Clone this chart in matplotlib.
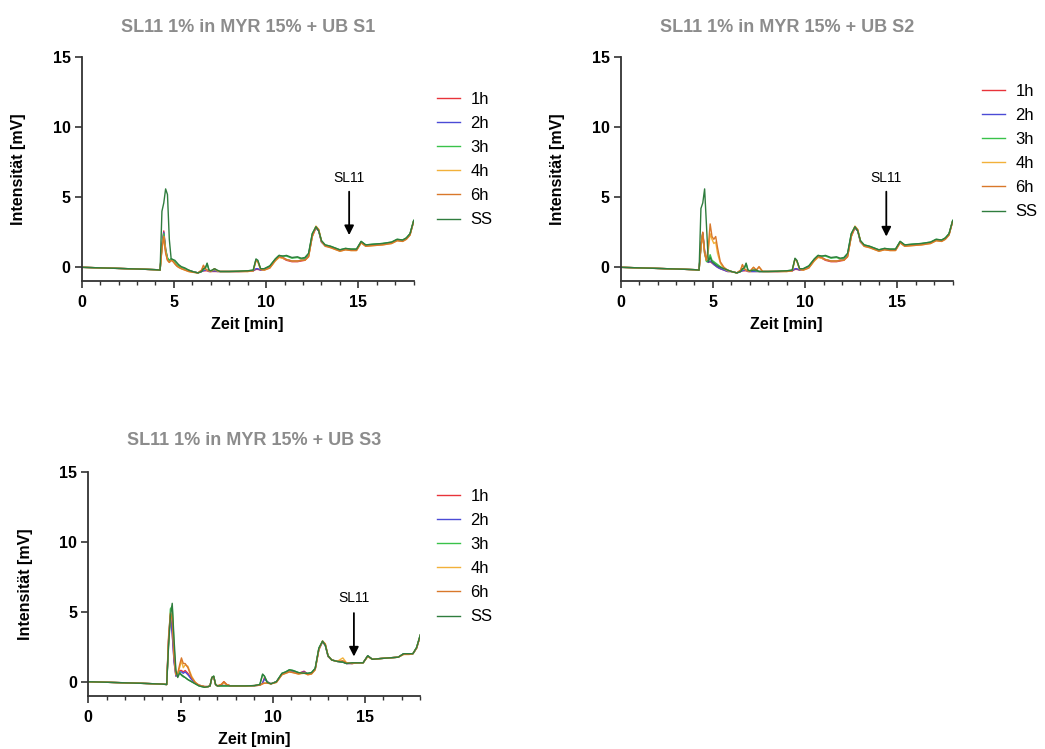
import matplotlib
matplotlib.use("Agg")
import matplotlib.pyplot as plt
from matplotlib.ticker import MultipleLocator

plt.rcParams['font.family'] = ['Liberation Sans', 'DejaVu Sans']

# retention time grid (min), shared by all traces
t = [0, 1, 2, 3, 4, 4.25, 4.35, 4.45, 4.55, 4.65,
     4.75, 4.85, 4.95, 5.05, 5.15, 5.25, 5.4, 5.6, 5.8, 6.0,
     6.3, 6.5, 6.6, 6.7, 6.8, 6.9, 7.0, 7.2, 7.35, 7.5,
     7.7, 8.0, 8.5, 9.0, 9.3, 9.45, 9.55, 9.7, 9.9, 10.2,
     10.5, 10.7, 10.9, 11.1, 11.4, 11.7, 11.9, 12.1, 12.3, 12.5,
     12.7, 12.85, 13.0, 13.2, 13.5, 13.8, 14.0, 14.3, 14.6, 14.9,
     15.15, 15.4, 15.8, 16.3, 16.8, 17.1, 17.4, 17.6, 17.8, 18.0]

series_labels = ['1h', '2h', '3h', '4h', '6h', 'SS']
series_colors = ['#e8333a', '#4b4bd6', '#39c24a', '#f2b13a', '#d9782a', '#2f7d3e']

titles = ['SL11 1% in MYR 15% + UB S1',
          'SL11 1% in MYR 15% + UB S2',
          'SL11 1% in MYR 15% + UB S3']

# ---- S1 ----
s1_1h = [0, -0.04, -0.08, -0.12, -0.17, -0.2, 1.6, 2.6, 1.3, 0.6,
         0.4, 0.55, 0.5, 0.3, 0.15, 0.05, -0.05, -0.15, -0.25, -0.3,
         -0.4, -0.3, -0.25, -0.25, -0.25, -0.3, -0.3, -0.3, -0.3, -0.3,
         -0.3, -0.3, -0.3, -0.28, -0.25, -0.15, -0.15, -0.2, -0.15, 0.0,
         0.5, 0.75, 0.65, 0.5, 0.4, 0.4, 0.45, 0.5, 0.8, 2.2,
         2.8, 2.6, 1.8, 1.55, 1.45, 1.3, 1.2, 1.3, 1.25, 1.25,
         1.8, 1.55, 1.6, 1.65, 1.75, 1.95, 1.9, 2.05, 2.35, 3.3]
s1_2h = [0, -0.04, -0.08, -0.12, -0.17, -0.2, 1.5, 2.5, 1.2, 0.6,
         0.4, 0.6, 0.5, 0.3, 0.15, 0.05, -0.05, -0.15, -0.25, -0.3,
         -0.4, -0.3, -0.25, -0.2, -0.2, -0.3, -0.3, -0.25, -0.3, -0.3,
         -0.3, -0.3, -0.3, -0.28, -0.25, -0.1, -0.1, -0.2, -0.15, 0.0,
         0.5, 0.75, 0.7, 0.55, 0.45, 0.45, 0.5, 0.55, 0.85, 2.3,
         2.85, 2.6, 1.8, 1.55, 1.45, 1.3, 1.2, 1.3, 1.25, 1.25,
         1.8, 1.55, 1.6, 1.65, 1.75, 1.95, 1.9, 2.05, 2.35, 3.3]
s1_3h = [0, -0.04, -0.08, -0.12, -0.17, -0.2, 1.4, 2.4, 1.3, 0.7,
         0.5, 0.6, 0.55, 0.35, 0.2, 0.1, 0.0, -0.1, -0.2, -0.3,
         -0.4, -0.3, -0.15, -0.1, 0.25, -0.2, -0.25, -0.15, -0.25, -0.3,
         -0.3, -0.3, -0.28, -0.25, -0.2, 0.55, 0.45, -0.1, -0.1, 0.1,
         0.6, 0.85, 0.8, 0.8, 0.65, 0.7, 0.6, 0.65, 0.95, 2.4,
         2.9, 2.65, 1.9, 1.6, 1.5, 1.35, 1.25, 1.35, 1.3, 1.3,
         1.85, 1.6, 1.65, 1.7, 1.8, 2.0, 1.95, 2.1, 2.4, 3.35]
s1_4h = [0, -0.04, -0.08, -0.12, -0.17, -0.2, 1.3, 2.2, 1.1, 0.5,
         0.35, 0.5, 0.45, 0.25, 0.1, 0.0, -0.1, -0.2, -0.3, -0.35,
         -0.4, -0.2, 0.1, -0.1, -0.2, -0.25, -0.3, -0.1, -0.25, -0.3,
         -0.3, -0.3, -0.3, -0.3, -0.25, 0.45, 0.4, -0.15, -0.2, -0.05,
         0.45, 0.7, 0.65, 0.55, 0.45, 0.45, 0.5, 0.5, 0.75, 2.2,
         2.95, 2.7, 1.85, 1.55, 1.4, 1.25, 1.15, 1.25, 1.2, 1.2,
         1.75, 1.5, 1.55, 1.6, 1.7, 1.9, 1.85, 2.0, 2.3, 3.3]
s1_6h = [0, -0.04, -0.08, -0.12, -0.17, -0.2, 1.3, 2.2, 1.0, 0.5,
         0.35, 0.5, 0.4, 0.25, 0.1, 0.0, -0.1, -0.2, -0.3, -0.35,
         -0.4, -0.2, 0.15, -0.1, -0.2, -0.25, -0.3, -0.1, -0.25, -0.3,
         -0.3, -0.3, -0.3, -0.3, -0.25, 0.5, 0.4, -0.15, -0.2, -0.05,
         0.5, 0.75, 0.7, 0.55, 0.45, 0.45, 0.5, 0.5, 0.75, 2.2,
         2.9, 2.7, 1.85, 1.5, 1.4, 1.25, 1.15, 1.25, 1.2, 1.2,
         1.75, 1.5, 1.55, 1.6, 1.7, 1.9, 1.85, 2.0, 2.3, 3.3]
s1_ss = [0, -0.04, -0.08, -0.12, -0.17, -0.2, 4.0, 4.6, 5.6, 5.2,
         2.0, 0.6, 0.55, 0.5, 0.35, 0.2, 0.05, -0.05, -0.2, -0.3,
         -0.4, -0.3, -0.1, -0.05, 0.3, -0.2, -0.25, -0.1, -0.2, -0.3,
         -0.3, -0.3, -0.28, -0.25, -0.2, 0.6, 0.5, -0.1, -0.1, 0.1,
         0.6, 0.85, 0.8, 0.85, 0.7, 0.75, 0.65, 0.7, 1.0, 2.4,
         2.9, 2.6, 1.9, 1.6, 1.5, 1.35, 1.25, 1.35, 1.3, 1.3,
         1.85, 1.6, 1.65, 1.7, 1.8, 2.0, 1.95, 2.1, 2.4, 3.35]

# ---- S2 ----
s2_1h = [0, -0.04, -0.08, -0.12, -0.17, -0.2, 1.6, 2.5, 1.2, 0.5,
         0.35, 0.4, 0.3, 0.2, 0.1, 0.0, -0.1, -0.2, -0.3, -0.3,
         -0.4, -0.3, -0.25, -0.25, -0.25, -0.3, -0.3, -0.3, -0.3, -0.3,
         -0.3, -0.3, -0.3, -0.28, -0.25, -0.15, -0.15, -0.2, -0.15, 0.0,
         0.5, 0.75, 0.65, 0.5, 0.4, 0.4, 0.45, 0.5, 0.8, 2.2,
         2.8, 2.6, 1.8, 1.55, 1.45, 1.3, 1.2, 1.3, 1.25, 1.25,
         1.8, 1.55, 1.6, 1.65, 1.75, 1.95, 1.9, 2.05, 2.35, 3.3]
s2_2h = [0, -0.04, -0.08, -0.12, -0.17, -0.2, 1.5, 2.4, 1.1, 0.5,
         0.35, 0.45, 0.35, 0.2, 0.1, 0.0, -0.1, -0.2, -0.3, -0.3,
         -0.4, -0.3, -0.25, -0.2, -0.2, -0.3, -0.3, -0.3, -0.3, -0.3,
         -0.3, -0.3, -0.3, -0.28, -0.25, -0.1, -0.1, -0.2, -0.15, 0.0,
         0.5, 0.75, 0.7, 0.55, 0.45, 0.45, 0.5, 0.55, 0.85, 2.3,
         2.85, 2.6, 1.8, 1.55, 1.45, 1.3, 1.2, 1.3, 1.25, 1.25,
         1.8, 1.55, 1.6, 1.65, 1.75, 1.95, 1.9, 2.05, 2.35, 3.3]
s2_3h = [0, -0.04, -0.08, -0.12, -0.17, -0.2, 1.5, 2.4, 1.0, 0.4,
         0.5, 0.9, 0.5, 0.4, 0.3, 0.2, 0.05, -0.1, -0.2, -0.3,
         -0.4, -0.3, -0.15, -0.1, 0.25, -0.2, -0.25, -0.2, -0.25, -0.3,
         -0.3, -0.3, -0.28, -0.25, -0.2, 0.6, 0.45, -0.1, -0.1, 0.1,
         0.6, 0.85, 0.8, 0.8, 0.65, 0.7, 0.6, 0.65, 0.95, 2.4,
         2.9, 2.65, 1.9, 1.6, 1.5, 1.35, 1.25, 1.35, 1.3, 1.3,
         1.85, 1.6, 1.65, 1.7, 1.8, 2.0, 1.95, 2.1, 2.4, 3.35]
s2_4h = [0, -0.04, -0.08, -0.12, -0.17, -0.2, 1.4, 2.3, 1.0, 0.5,
         1.2, 2.4, 2.0, 1.7, 1.8, 1.0, 0.3, -0.1, -0.25, -0.3,
         -0.4, -0.2, 0.15, -0.1, -0.2, -0.25, -0.3, 0.0, -0.2, 0.0,
         -0.3, -0.3, -0.3, -0.3, -0.25, 0.6, 0.45, -0.15, -0.2, -0.05,
         0.45, 0.7, 0.65, 0.55, 0.45, 0.45, 0.5, 0.5, 0.75, 2.2,
         2.95, 2.7, 1.85, 1.5, 1.4, 1.25, 1.15, 1.25, 1.2, 1.2,
         1.75, 1.5, 1.55, 1.6, 1.7, 1.9, 1.85, 2.0, 2.3, 3.3]
s2_6h = [0, -0.04, -0.08, -0.12, -0.17, -0.2, 1.5, 2.5, 1.0, 0.5,
         1.5, 3.1, 2.2, 2.0, 2.2, 1.4, 0.4, 0.0, -0.2, -0.3,
         -0.4, -0.2, 0.2, -0.1, -0.2, -0.25, -0.3, 0.0, -0.2, 0.05,
         -0.3, -0.3, -0.3, -0.3, -0.25, 0.6, 0.45, -0.15, -0.2, -0.05,
         0.5, 0.75, 0.7, 0.55, 0.45, 0.45, 0.5, 0.5, 0.75, 2.2,
         2.9, 2.7, 1.85, 1.5, 1.4, 1.25, 1.15, 1.25, 1.2, 1.2,
         1.75, 1.5, 1.55, 1.6, 1.7, 1.9, 1.85, 2.0, 2.3, 3.3]
s2_ss = [0, -0.04, -0.08, -0.12, -0.17, -0.2, 4.2, 4.6, 5.6, 3.0,
         0.4, 0.7, 0.4, 0.3, 0.2, 0.1, 0.0, -0.1, -0.2, -0.3,
         -0.4, -0.3, -0.1, -0.05, 0.3, -0.2, -0.25, -0.2, -0.2, -0.3,
         -0.3, -0.3, -0.28, -0.25, -0.2, 0.65, 0.5, -0.1, -0.1, 0.1,
         0.6, 0.85, 0.8, 0.85, 0.7, 0.75, 0.65, 0.7, 1.0, 2.4,
         2.9, 2.6, 1.9, 1.6, 1.5, 1.35, 1.25, 1.35, 1.3, 1.3,
         1.85, 1.6, 1.65, 1.7, 1.8, 2.0, 1.95, 2.1, 2.4, 3.35]

# ---- S3 ----
s3_1h = [0, -0.04, -0.08, -0.12, -0.17, -0.2, 3.0, 4.8, 3.5, 1.5,
         0.4, 0.5, 0.8, 0.8, 0.7, 0.8, 0.6, 0.2, -0.1, -0.25,
         -0.35, -0.35, -0.3, 0.3, 0.35, -0.2, -0.3, -0.25, 0.0, -0.2,
         -0.3, -0.3, -0.3, -0.28, -0.25, -0.1, 0.3, 0.0, -0.15, 0.0,
         0.55, 0.65, 0.75, 0.7, 0.6, 0.75, 0.55, 0.6, 0.9, 2.3,
         2.85, 2.6, 1.8, 1.55, 1.45, 1.4, 1.3, 1.3, 1.35, 1.35,
         1.85, 1.6, 1.65, 1.7, 1.75, 2.0, 2.0, 2.0, 2.4, 3.3]
s3_2h = [0, -0.04, -0.08, -0.12, -0.17, -0.2, 2.9, 4.7, 3.4, 1.4,
         0.4, 0.5, 0.7, 0.7, 0.6, 0.7, 0.5, 0.15, -0.1, -0.25,
         -0.35, -0.35, -0.3, 0.3, 0.35, -0.2, -0.3, -0.25, -0.1, -0.2,
         -0.3, -0.3, -0.3, -0.28, -0.25, -0.1, 0.2, 0.0, -0.15, 0.0,
         0.55, 0.65, 0.75, 0.7, 0.6, 0.7, 0.55, 0.6, 0.9, 2.3,
         2.85, 2.6, 1.8, 1.55, 1.45, 1.4, 1.3, 1.3, 1.35, 1.35,
         1.85, 1.6, 1.65, 1.7, 1.75, 2.0, 2.0, 2.0, 2.4, 3.3]
s3_3h = [0, -0.04, -0.08, -0.12, -0.17, -0.2, 2.6, 5.2, 5.4, 2.5,
         0.6, 0.5, 0.7, 0.45, 0.35, 0.3, 0.15, 0.0, -0.15, -0.3,
         -0.4, -0.35, -0.3, 0.3, 0.4, -0.2, -0.3, -0.3, -0.3, -0.3,
         -0.3, -0.3, -0.3, -0.28, -0.2, 0.5, 0.4, -0.05, -0.15, 0.0,
         0.6, 0.7, 0.85, 0.8, 0.65, 0.6, 0.6, 0.65, 0.95, 2.4,
         2.9, 2.6, 1.85, 1.55, 1.45, 1.4, 1.3, 1.35, 1.35, 1.35,
         1.85, 1.6, 1.65, 1.7, 1.75, 2.0, 2.0, 2.0, 2.45, 3.35]
s3_4h = [0, -0.04, -0.08, -0.12, -0.17, -0.2, 2.8, 4.6, 4.9, 2.0,
         0.5, 0.6, 1.0, 1.5, 1.0, 1.2, 1.1, 0.4, -0.05, -0.25,
         -0.35, -0.35, -0.3, 0.3, 0.35, -0.2, -0.3, -0.2, -0.1, -0.2,
         -0.3, -0.3, -0.3, -0.28, -0.25, -0.15, -0.1, -0.1, -0.15, -0.05,
         0.5, 0.6, 0.7, 0.65, 0.55, 0.6, 0.5, 0.55, 0.85, 2.3,
         2.9, 2.7, 1.85, 1.55, 1.45, 1.7, 1.35, 1.3, 1.35, 1.35,
         1.8, 1.6, 1.65, 1.7, 1.75, 1.95, 1.95, 2.0, 2.4, 3.3]
s3_6h = [0, -0.04, -0.08, -0.12, -0.17, -0.2, 3.2, 4.9, 4.4, 1.8,
         0.5, 0.6, 1.2, 1.7, 1.3, 1.3, 1.0, 0.3, -0.05, -0.25,
         -0.35, -0.35, -0.3, 0.3, 0.35, -0.2, -0.3, -0.2, 0.0, -0.2,
         -0.3, -0.3, -0.3, -0.28, -0.25, -0.15, -0.1, -0.1, -0.15, -0.05,
         0.5, 0.6, 0.7, 0.65, 0.55, 0.65, 0.5, 0.55, 0.85, 2.3,
         2.9, 2.7, 1.85, 1.55, 1.45, 1.5, 1.35, 1.3, 1.35, 1.35,
         1.8, 1.6, 1.65, 1.7, 1.75, 1.95, 1.95, 2.0, 2.4, 3.3]
s3_ss = [0, -0.04, -0.08, -0.12, -0.17, -0.2, 2.5, 4.6, 5.6, 3.0,
         0.8, 0.3, 0.6, 0.5, 0.4, 0.3, 0.15, 0.0, -0.15, -0.3,
         -0.4, -0.35, -0.3, 0.3, 0.4, -0.2, -0.3, -0.3, -0.3, -0.3,
         -0.3, -0.3, -0.3, -0.28, -0.2, 0.55, 0.4, -0.05, -0.15, 0.0,
         0.6, 0.7, 0.85, 0.8, 0.65, 0.6, 0.6, 0.65, 0.95, 2.4,
         2.9, 2.6, 1.85, 1.55, 1.45, 1.4, 1.3, 1.35, 1.35, 1.35,
         1.85, 1.6, 1.65, 1.7, 1.75, 2.0, 2.0, 2.0, 2.45, 3.35]

panel_data = [
    [s1_1h, s1_2h, s1_3h, s1_4h, s1_6h, s1_ss],
    [s2_1h, s2_2h, s2_3h, s2_4h, s2_6h, s2_ss],
    [s3_1h, s3_2h, s3_3h, s3_4h, s3_6h, s3_ss],
]

# SL11 marker: (text x, text y, arrow top, arrow tip)
sl11_marks = [(14.5, 6.35, 5.6, 2.1), (14.4, 6.4, 5.6, 2.0), (14.4, 6.0, 5.1, 1.6)]

fig = plt.figure(figsize=(10.45, 7.49), dpi=100)
W, H = 1045.0, 749.0
# axes boxes in pixel units: left, bottom-edge (from top), width, height
boxes = [(81.7, 281.3, 332, 224), (620.7, 281.3, 332, 224), (88.3, 695.7, 332, 224)]
legend_pos = [(437, 91.5), (982, 83.5), (437, 488.5)]
title_pads = [18, 18, 19]

for i in range(3):
    l, b, w, h = boxes[i]
    ax = fig.add_axes([l / W, 1 - b / H, w / W, h / H])
    for vals, lab, col in zip(panel_data[i], series_labels, series_colors):
        ax.plot(t, vals, color=col, lw=1.0, label=lab)

    ax.set_xlim(0, 18)
    ax.set_ylim(-1, 15)
    ax.xaxis.set_major_locator(MultipleLocator(5))
    ax.xaxis.set_minor_locator(MultipleLocator(1))
    ax.yaxis.set_major_locator(MultipleLocator(5))
    for s in ['top', 'right']:
        ax.spines[s].set_visible(False)
    for s in ['left', 'bottom']:
        ax.spines[s].set_linewidth(1.3)
        ax.spines[s].set_color('#333333')
    ax.tick_params(which='major', length=5, width=1.2, color='#333333', labelsize=11.5)
    ax.tick_params(which='minor', length=3, width=1.0, color='#333333')
    ax.tick_params(axis='x', pad=5)
    ax.tick_params(axis='y', pad=3)
    for lb in ax.get_xticklabels() + ax.get_yticklabels():
        lb.set_fontweight('bold')

    ax.set_xlabel('Zeit [min]', fontsize=11.5, fontweight='bold')
    ax.set_ylabel('Intensität [mV]', fontsize=11.5, fontweight='bold')
    ax.xaxis.set_label_coords(0.5, -0.16)
    ax.yaxis.set_label_coords(-0.168, 0.5)
    ax.set_title(titles[i], fontsize=13, fontweight='bold', color='#8c8c8c', pad=title_pads[i])

    tx, ty, a0, a1 = sl11_marks[i]
    ax.text(tx, ty, 'SL11', ha='center', va='center', fontsize=10)
    ax.annotate('', xy=(tx, a1), xytext=(tx, a0),
                arrowprops=dict(arrowstyle='-|>', color='black', lw=1.3, mutation_scale=14))

    lx, ly = legend_pos[i]
    ax.legend(loc='upper left', bbox_to_anchor=(lx / W, 1 - ly / H), bbox_transform=fig.transFigure,
              frameon=False, fontsize=12, handlelength=1.4, handletextpad=0.6,
              labelspacing=0.55, borderaxespad=0, borderpad=0)

fig.savefig('out.png', dpi=100)
